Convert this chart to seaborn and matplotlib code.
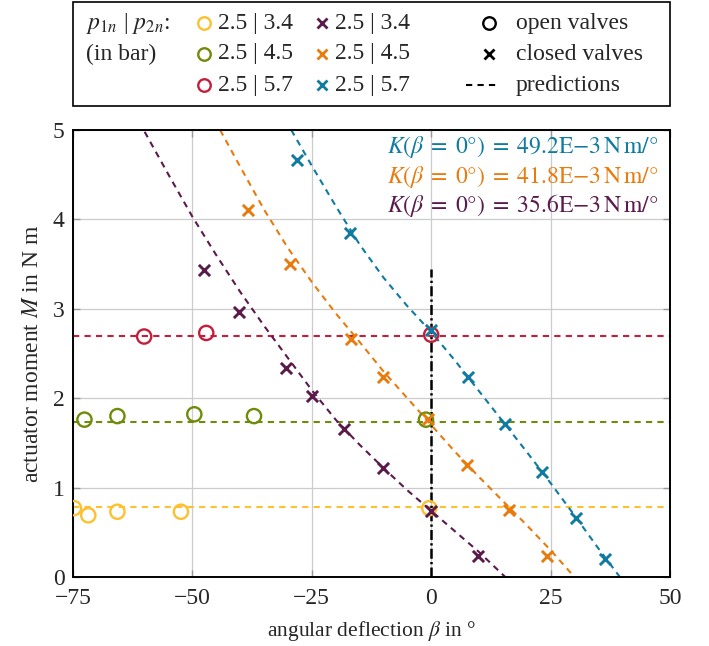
import matplotlib.pyplot as plt
import numpy as np
import pandas as pd
import seaborn as sns
from matplotlib.patches import Rectangle

# measured points, open valves (circles)
open_beta_34 = [-74.8, -71.8, -65.7, -52.4, -0.4]
open_M_34 = [0.77, 0.69, 0.73, 0.73, 0.77]
open_beta_45 = [-72.6, -65.7, -49.6, -37.1, -1.1]
open_M_45 = [1.76, 1.80, 1.82, 1.80, 1.76]
open_beta_57 = [-60.1, -47.1, 0.0]
open_M_57 = [2.69, 2.73, 2.71]

# measured points, closed valves (crosses)
closed_beta_34 = [-47.5, -40.3, -30.3, -24.9, -18.3, -10.0, 0.0, 9.9]
closed_M_34 = [3.43, 2.96, 2.34, 2.02, 1.66, 1.22, 0.74, 0.24]
closed_beta_45 = [-38.3, -29.5, -16.8, -10.1, -0.6, 7.6, 16.3, 24.3]
closed_M_45 = [4.11, 3.50, 2.66, 2.24, 1.77, 1.25, 0.75, 0.24]
closed_beta_57 = [-28.2, -17.0, 0.0, 7.8, 15.4, 23.3, 30.3, 36.3]
closed_M_57 = [4.66, 3.85, 2.76, 2.24, 1.71, 1.17, 0.66, 0.20]

# predictions
open_pred_M = [0.78, 1.73, 2.70]
pred_beta_34 = [-60, -55, -50, -45, -40, -35, -30, -25, -20, -15, -10, -5, 0, 5, 10, 15.5]
pred_M_34 = [4.98, 4.50, 4.03, 3.60, 3.19, 2.81, 2.45, 2.09, 1.76, 1.48, 1.22, 0.97, 0.74, 0.51, 0.28, 0.0]
pred_beta_45 = [-44.2, -40, -35, -30, -25, -20, -15, -10, -5, 0, 5, 10, 15, 20, 25, 30]
pred_M_45 = [5.0, 4.59, 4.11, 3.68, 3.30, 2.95, 2.63, 2.30, 2.00, 1.70, 1.40, 1.12, 0.85, 0.58, 0.30, 0.0]
pred_beta_57 = [-29.3, -25, -20, -15, -10, -5, 0, 5, 10, 15, 20, 25, 30, 35, 39.5]
pred_M_57 = [5.0, 4.60, 4.15, 3.72, 3.35, 3.03, 2.74, 2.42, 2.08, 1.74, 1.40, 1.05, 0.69, 0.32, 0.0]

stiffness_labels = ["49.2", "41.8", "35.6"]
pressure_labels = ["2.5 | 3.4", "2.5 | 4.5", "2.5 | 5.7"]

yellow, green, red = "#fdc02f", "#6e8b09", "#c41e3a"
purple, orange, blue = "#5a1a4c", "#e87b0e", "#0f7ba0"
open_colors = [yellow, green, red]
closed_colors = [purple, orange, blue]

sns.set_style("ticks")
plt.rcParams["font.family"] = ["Liberation Serif", "DejaVu Serif"]
plt.rcParams["mathtext.fontset"] = "stix"
plt.rcParams["font.size"] = 17

fig = plt.figure(figsize=(7.09, 6.46), dpi=100)
ax = fig.add_axes([73 / 709, 1 - 577 / 646, 597 / 709, 447 / 646])

dash = (3, 2.5)
for m, c in zip(open_pred_M, open_colors):
    ax.axhline(m, color=c, lw=1.5, dashes=dash, zorder=2)

for b, m, c in [(pred_beta_34, pred_M_34, purple), (pred_beta_45, pred_M_45, orange),
                (pred_beta_57, pred_M_57, blue)]:
    df = pd.DataFrame({"beta": b, "M": m})
    sns.lineplot(data=df, x="beta", y="M", ax=ax, color=c, lw=1.5, sort=False,
                 estimator=None, zorder=2).lines[-1].set_dashes(dash)

ax.plot([0, 0], [0, 3.45], color="black", lw=1.8, dashes=(4, 1.3, 0.9, 1.3), zorder=3)

for b, m, c in [(open_beta_34, open_M_34, yellow), (open_beta_45, open_M_45, green),
                (open_beta_57, open_M_57, red)]:
    sns.scatterplot(x=b, y=m, ax=ax, marker="o", s=105, facecolors="none",
                    edgecolors=c, linewidth=1.7, zorder=4)

for b, m, c in [(closed_beta_34, closed_M_34, purple), (closed_beta_45, closed_M_45, orange),
                (closed_beta_57, closed_M_57, blue)]:
    sns.scatterplot(x=b, y=m, ax=ax, marker="x", s=65, color=c, linewidth=2.1, zorder=5)

ax.set_xlim(-75, 50)
ax.set_ylim(0, 5)
ax.set_xticks([-75, -50, -25, 0, 25, 50])
ax.set_yticks([0, 1, 2, 3, 4, 5])
ax.grid(True, color="#cccccc", lw=0.9, zorder=0)
ax.set_axisbelow(True)
ax.tick_params(direction="in", length=5, width=1, color="#999999", labelsize=17,
               top=True, right=True)
ax.tick_params(axis="x", pad=8)
ax.tick_params(axis="y", pad=6)
for s in ax.spines.values():
    s.set_linewidth(1.4)
    s.set_color("black")
ax.set_xlabel(r"angular deflection $\beta$ in °", fontsize=15.5, labelpad=7)
ax.set_ylabel(r"actuator moment $M$ in N m", fontsize=17, labelpad=7)

for y, k, c in zip([0.962, 0.895, 0.830], stiffness_labels, [blue, orange, purple]):
    ax.text(0.98, y,
            r"$K(\beta\;=\;0°)\;=\;" + k + r"\mathrm{E}{-}3\,\mathrm{N\,m}/°$",
            transform=ax.transAxes, ha="right", va="center", color=c, fontsize=17)

# legend box in pixel coordinates
lg = fig.add_axes([0, 1 - 108 / 646, 1, 108 / 646])
lg.set_xlim(0, 709)
lg.set_ylim(108, 0)
lg.axis("off")
lg.add_patch(Rectangle((73, 2), 597, 104, fill=False, ec="black", lw=1.2))
rows = [23, 54, 85]
lg.text(86, rows[0], r"$p_{1n}$ | $p_{2n}$:", va="center", fontsize=17)
lg.text(86, rows[1], "(in bar)", va="center", fontsize=17)
for r, c, lab in zip(rows, open_colors, pressure_labels):
    lg.plot(204, r, marker="o", ms=9, mfc="none", mec=c, mew=1.7)
    lg.text(218, r, lab, va="center", fontsize=17)
for r, c, lab in zip(rows, closed_colors, pressure_labels):
    lg.plot(322, r, marker="x", ms=7, color=c, mew=2)
    lg.text(335, r, lab, va="center", fontsize=17)
lg.plot(489, rows[0], marker="o", ms=9, mfc="none", mec="black", mew=1.7)
lg.plot(489, rows[1], marker="x", ms=7, color="black", mew=2)
lg.plot([466, 500], [rows[2], rows[2]], color="black", lw=1.5, dashes=dash)
lg.text(516, rows[0], "open valves", va="center", fontsize=17)
lg.text(516, rows[1], "closed valves", va="center", fontsize=17)
lg.text(516, rows[2], "predictions", va="center", fontsize=17)

fig.savefig("out.png", dpi=100)
